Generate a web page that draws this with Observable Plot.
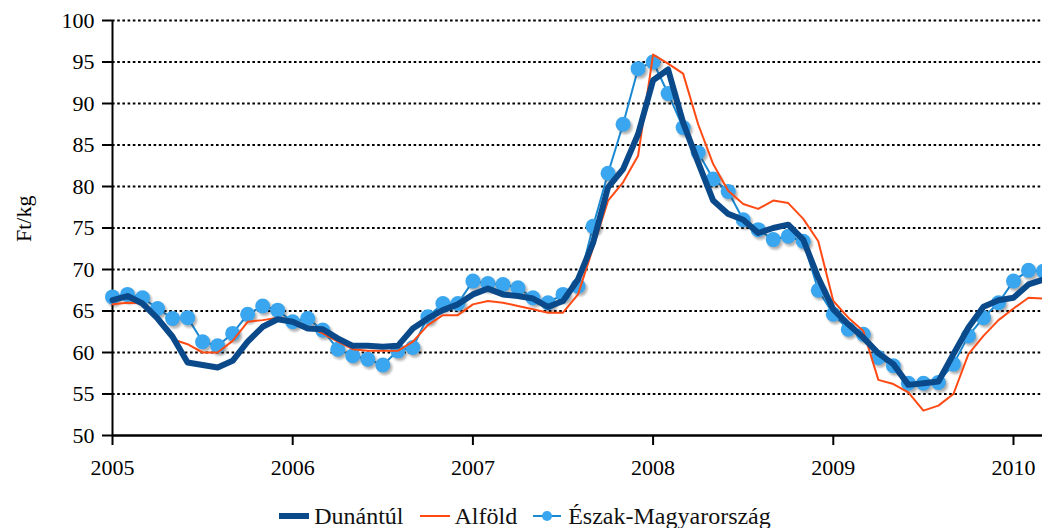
<!DOCTYPE html>
<html>
<head>
<meta charset="utf-8">
<script src="https://cdn.jsdelivr.net/npm/d3@7"></script>
<script src="https://cdn.jsdelivr.net/npm/@observablehq/plot@0.6"></script>
<style>
  body { margin: 0; background: #fff; font-family: 'Liberation Serif', 'DejaVu Serif', serif; overflow: hidden; }
  #chart { width: 1042px; height: 490px; overflow: hidden; }
  #chart svg, #chart svg text { font-family: 'Liberation Serif', 'DejaVu Serif', serif !important; }
  #legend { height: 38px; display: flex; justify-content: center; align-items: center; padding-top: 14px; box-sizing: border-box;
            font-size: 24px; color: #111; font-family: 'Liberation Serif', 'DejaVu Serif', serif; padding-left: 8px; }
  .item { display: flex; align-items: center; margin: 0 8px; }
  .item svg { margin-right: 5px; }
</style>
</head>
<body>
<div id="chart"></div>
<div id="legend"></div>
<script>
// Monthly prices, Jan 2005 .. Mar 2010 (Ft/kg)
const dunantul = [
  66.3, 66.8, 65.9, 64.1, 61.9, 58.8, 58.5, 58.2, 59.0, 61.3, 63.1, 64.0,
  63.7, 62.9, 62.8, 61.7, 60.8, 60.8, 60.7, 60.8, 62.9, 64.1, 65.1, 65.8,
  67.0, 67.7, 67.0, 66.8, 66.5, 65.5, 66.2, 68.8, 73.2, 79.9, 82.1, 86.3,
  92.8, 94.1, 87.7, 82.9, 78.3, 76.7, 76.0, 74.4, 75.0, 75.4, 73.6, 69.0,
  65.2, 63.4, 61.8, 59.9, 58.6, 56.1, 56.3, 56.5, 59.8, 63.0, 65.5, 66.3,
  66.6, 68.2, 68.8
];
const alfold = [
  65.8, 66.0, 65.9, 64.3, 61.6, 61.0, 60.0, 60.0, 61.4, 63.7, 63.9, 64.2,
  63.8, 63.1, 62.3, 61.3, 60.4, 60.2, 60.2, 60.2, 61.3, 63.3, 64.5, 64.5,
  65.8, 66.2, 66.0, 65.6, 65.2, 64.8, 64.8, 67.0, 72.6, 78.3, 80.5, 83.7,
  95.9, 94.8, 93.6, 87.5, 82.7, 79.5, 77.9, 77.3, 78.3, 78.0, 76.1, 73.4,
  66.2, 64.2, 62.6, 56.7, 56.2, 55.2, 53.0, 53.6, 55.0, 59.8, 62.0, 63.9,
  65.3, 66.6, 66.5
];
const eszak = [
  66.7, 67.0, 66.6, 65.3, 64.1, 64.2, 61.3, 60.8, 62.3, 64.6, 65.6, 65.1,
  63.7, 64.1, 62.7, 60.4, 59.6, 59.2, 58.5, 60.2, 60.6, 64.3, 65.9, 65.9,
  68.6, 68.3, 68.2, 67.8, 66.6, 66.0, 67.0, 68.0, 75.2, 81.6, 87.5, 94.2,
  95.0, 91.2, 87.1, 84.1, 80.9, 79.4, 76.0, 74.8, 73.6, 74.0, 73.4, 67.5,
  64.6, 62.8, 62.2, 59.4, 58.4, 56.3, 56.3, 56.4, 58.6, 62.0, 64.2, 66.0,
  68.6, 69.9, 69.8
];
const seriesNames = ["Dunántúl", "Alföld", "Észak-Magyarország"];
const yearTicks = [2005, 2006, 2007, 2008, 2009, 2010];
const yTicks = [50, 55, 60, 65, 70, 75, 80, 85, 90, 95, 100];
const gridLevels = [55, 60, 65, 70, 75, 80, 85, 90, 95, 100];
const yLabel = "Ft/kg";

// month positions as fractional years
const months = d3.range(dunantul.length).map(i => 2005 + i / 12);

const colDun = "#0b4a8a", colAlf = "#ff4a14", colEszLine = "#1b88d2", colEszDot = "#3aa6ef";
const serif = "'Liberation Serif', 'DejaVu Serif', serif";

const chart = Plot.plot({
  width: 1042,
  height: 490,
  marginLeft: 112,
  marginRight: 0,
  marginTop: 20,
  marginBottom: 55,
  style: { fontFamily: serif, fontSize: "22px", color: "#000", background: "#fff" },
  x: { domain: [2005, 2010.161] },
  y: { domain: [50, 100] },
  marks: [
    Plot.ruleY(gridLevels, { stroke: "#000", strokeWidth: 1.8, strokeDasharray: "2.6,2.6" }),
    Plot.axisY({ ticks: yTicks, tickSize: 10, tickPadding: 8, fontSize: 22, label: null, strokeWidth: 2 }),
    Plot.axisX({ ticks: yearTicks, tickFormat: "d", tickSize: 10, tickPadding: 14, fontSize: 22, label: null, strokeWidth: 2 }),
    Plot.ruleX([2005], { stroke: "#000", strokeWidth: 2 }),
    Plot.ruleY([50], { stroke: "#000", strokeWidth: 2.5 }),
    Plot.line(eszak, { x: months, y: eszak, stroke: colEszLine, strokeWidth: 2 }),
    Plot.dot(eszak, { x: months, y: eszak, r: 7.5, fill: "#222", fillOpacity: 0.35, dx: 2, dy: 2.5, ariaDescription: "shadow" }),
    Plot.dot(eszak, { x: months, y: eszak, r: 7.5, fill: colEszDot }),
    Plot.line(alfold, { x: months, y: alfold, stroke: colAlf, strokeWidth: 2 }),
    Plot.line(dunantul, { x: months, y: dunantul, stroke: colDun, strokeWidth: 6, strokeLinejoin: "round" }),
    Plot.text([yLabel], { frameAnchor: "left", dx: -89, dy: 14, rotate: -90, fontSize: 22 })
  ]
});
// soft blur for marker shadows
const defs = d3.select(chart).insert("defs", ":first-child");
defs.append("filter").attr("id", "blur").append("feGaussianBlur").attr("stdDeviation", 1);
d3.select(chart).selectAll("g[aria-description=shadow]").attr("filter", "url(#blur)");
d3.select(chart).selectAll("text").attr("font-family", serif);
document.getElementById("chart").appendChild(chart);

// legend
const legend = d3.select("#legend");
const swatches = [
  { name: seriesNames[0], draw: s => s.append("line").attr("x1", 0).attr("x2", 30).attr("y1", 8).attr("y2", 8).attr("stroke", colDun).attr("stroke-width", 6) },
  { name: seriesNames[1], draw: s => s.append("line").attr("x1", 0).attr("x2", 30).attr("y1", 8).attr("y2", 8).attr("stroke", colAlf).attr("stroke-width", 2) },
  { name: seriesNames[2], draw: s => {
      s.append("line").attr("x1", 0).attr("x2", 28).attr("y1", 8).attr("y2", 8).attr("stroke", colEszLine).attr("stroke-width", 2);
      s.append("circle").attr("cx", 14).attr("cy", 8).attr("r", 5).attr("fill", colEszDot);
    } }
];
for (const sw of swatches) {
  const it = legend.append("div").attr("class", "item");
  const s = it.append("svg").attr("width", 30).attr("height", 16);
  sw.draw(s);
  it.append("span").text(sw.name);
}
</script>
</body>
</html>
